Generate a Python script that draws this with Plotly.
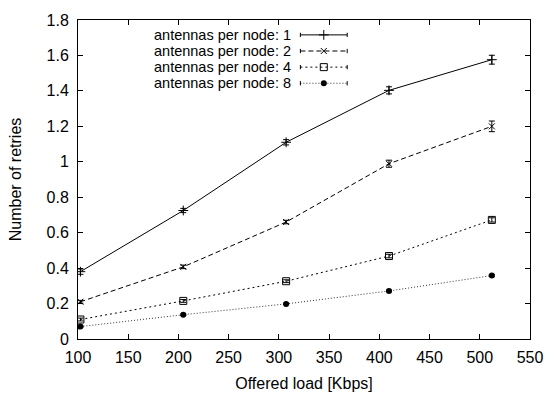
import plotly.graph_objects as go

# ---- data ----
offered_load = [102.4, 204.8, 307.2, 409.6, 512.0]
retries_1 = [0.38, 0.725, 1.11, 1.403, 1.576]
err_1 = [0.015, 0.012, 0.015, 0.02, 0.025]
retries_2 = [0.21, 0.407, 0.66, 0.989, 1.20]
err_2 = [0.008, 0.01, 0.01, 0.02, 0.03]
retries_4 = [0.11, 0.215, 0.326, 0.468, 0.672]
err_4 = [0.008, 0.008, 0.008, 0.01, 0.012]
retries_8 = [0.07, 0.137, 0.198, 0.271, 0.358]
err_8 = [0.004, 0.004, 0.004, 0.005, 0.006]
labels = ["antennas per node: 1", "antennas per node: 2",
          "antennas per node: 4", "antennas per node: 8"]
x_ticks = [100, 150, 200, 250, 300, 350, 400, 450, 500, 550]
y_ticks = [0, 0.2, 0.4, 0.6, 0.8, 1, 1.2, 1.4, 1.6, 1.8]
y_tick_text = ["0", "0.2", "0.4", "0.6", "0.8", "1", "1.2", "1.4", "1.6", "1.8"]

series = [
    (retries_1, err_1, dict(color="black", width=1, dash="solid"),
     dict(symbol="cross-thin-open", size=7, color="black", line=dict(width=1, color="black"))),
    (retries_2, err_2, dict(color="black", width=1, dash="5px,3px"),
     dict(symbol="x-thin-open", size=6, color="black", line=dict(width=1, color="black"))),
    (retries_4, err_4, dict(color="black", width=1, dash="2px,3px"),
     dict(symbol="square-open", size=7, color="black", line=dict(width=1, color="black"))),
    (retries_8, err_8, dict(color="#333333", width=1, dash="1px,2px"),
     dict(symbol="circle", size=6, color="black", line=dict(width=0, color="black"))),
]

FONT = dict(family="Liberation Sans, Arial, sans-serif", size=16, color="black")
KEY_FONT = dict(family="Liberation Sans, Arial, sans-serif", size=14.5, color="black")

fig = go.Figure()
for (vals, errs, line, marker), name in zip(series, labels):
    fig.add_trace(go.Scatter(
        x=offered_load, y=vals, mode="lines+markers", name=name,
        line=line, marker=marker, showlegend=False,
        error_y=dict(type="data", array=errs, visible=True,
                     color="black", thickness=1, width=3),
    ))

# gnuplot-style key (text right-aligned, sample to the right)
key_text_x = 313.5
key_x0, key_x1 = 321.4, 368.0
key_rows = [1.716, 1.625, 1.534, 1.443]
cap = 0.012
for (vals, errs, line, marker), name, ky in zip(series, labels, key_rows):
    fig.add_annotation(x=key_text_x, y=ky, xref="x", yref="y", text=name,
                       showarrow=False, xanchor="right", yanchor="middle",
                       font=KEY_FONT, borderpad=0)
    fig.add_shape(type="line", xref="x", yref="y", x0=key_x0, x1=key_x1,
                  y0=ky, y1=ky, line=line)
    for kx in (key_x0, key_x1):
        fig.add_shape(type="line", xref="x", yref="y", x0=kx, x1=kx,
                      y0=ky - cap, y1=ky + cap, line=dict(color="black", width=1))
    fig.add_trace(go.Scatter(x=[(key_x0 + key_x1) / 2], y=[ky], mode="markers",
                             marker=marker, showlegend=False, hoverinfo="skip"))

axis_common = dict(showline=True, linecolor="black", linewidth=1, mirror="ticks",
                   ticks="inside", ticklen=5, tickcolor="black", tickwidth=1,
                   showgrid=False, zeroline=False, tickfont=FONT)

fig.update_layout(
    width=555, height=401,
    margin=dict(l=78, r=13.5, t=16, b=58),
    paper_bgcolor="white", plot_bgcolor="white",
    font=FONT,
    xaxis=dict(range=[100, 550], tickvals=x_ticks, ticklabelstandoff=4,
               title=dict(text="Offered load [Kbps]", font=FONT, standoff=12),
               **axis_common),
    yaxis=dict(range=[0, 1.8], tickvals=y_ticks, ticktext=y_tick_text,
               ticklabelstandoff=5,
               title=dict(text="Number of retries", font=FONT, standoff=20),
               **axis_common),
)

fig.write_html("out.html")
